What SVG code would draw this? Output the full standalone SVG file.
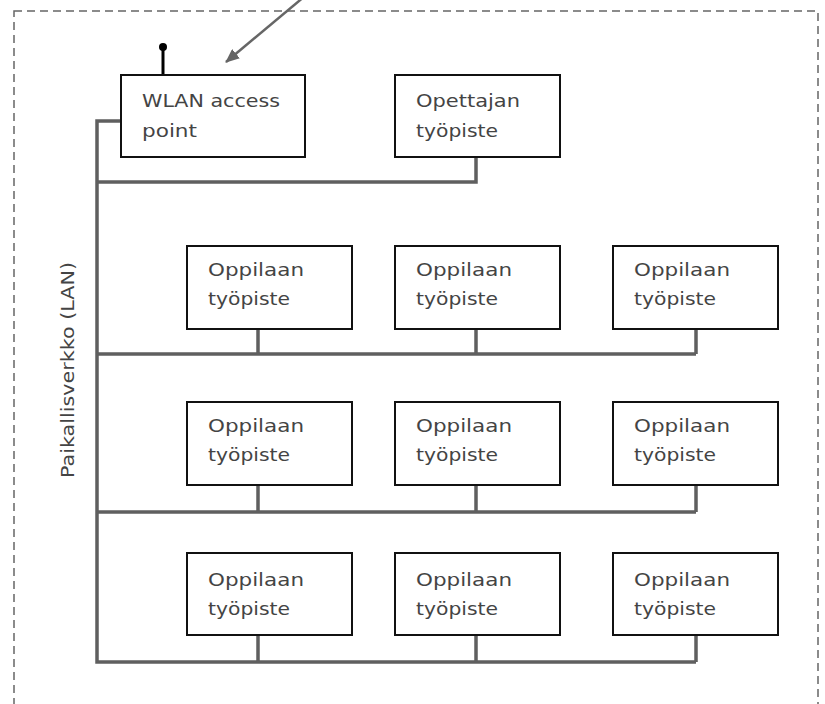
<svg xmlns="http://www.w3.org/2000/svg" width="825" height="704" viewBox="0 0 825 704">
<defs>
<style>
.box{fill:#fff;stroke:#111;stroke-width:2}
.lbl{font-family:"DejaVu Sans","Liberation Sans",sans-serif;font-size:17px;fill:#444}
.bus{fill:none;stroke:#5f5f5f;stroke-width:3.5}
</style>
<marker id="ah" markerWidth="14" markerHeight="12" refX="13" refY="6" orient="auto" markerUnits="userSpaceOnUse">
<path d="M0,0 L14,6 L0,12 z" fill="#666"/>
</marker>
</defs>
<rect x="14" y="11" width="804" height="720" fill="none" stroke="#666" stroke-width="1.5" stroke-dasharray="8 5"/>
<text class="lbl" transform="translate(74,370) rotate(-90)" text-anchor="middle" textLength="216" lengthAdjust="spacingAndGlyphs">Paikallisverkko (LAN)</text>
<g id="connectors">
<path class="bus" d="M121,121 H97 V662 H696"/>
<path class="bus" d="M97,182 H476 V157"/>
<path class="bus" d="M97,354 H696 M258,329 V354 M476,329 V354 M696,329 V354"/>
<path class="bus" d="M97,512 H696 M258,485 V512 M476,485 V512 M696,485 V512"/>
<path class="bus" d="M258,635 V662 M476,635 V662 M696,635 V662"/>
<line x1="163" y1="47" x2="163" y2="75" stroke="#000" stroke-width="3"/>
<circle cx="163" cy="47" r="4" fill="#000"/>
<line x1="305" y1="-4" x2="226" y2="62" stroke="#666" stroke-width="2.5" marker-end="url(#ah)"/>
</g>
<g id="wlan"><rect class="box" x="121" y="75" width="184" height="82"/><text class="lbl" x="142" y="107" textLength="138" lengthAdjust="spacingAndGlyphs">WLAN access</text><text class="lbl" x="142" y="137" textLength="55" lengthAdjust="spacingAndGlyphs">point</text></g>
<g id="opettaja"><rect class="box" x="395" y="75" width="165" height="82"/><text class="lbl" x="416" y="107" textLength="104" lengthAdjust="spacingAndGlyphs">Opettajan</text><text class="lbl" x="416" y="137" textLength="82" lengthAdjust="spacingAndGlyphs">työpiste</text></g>
<g id="o11"><rect class="box" x="187" y="246" width="165" height="83"/><text class="lbl" x="208" y="276" textLength="96" lengthAdjust="spacingAndGlyphs">Oppilaan</text><text class="lbl" x="208" y="305" textLength="82" lengthAdjust="spacingAndGlyphs">työpiste</text></g>
<g id="o12"><rect class="box" x="395" y="246" width="165" height="83"/><text class="lbl" x="416" y="276" textLength="96" lengthAdjust="spacingAndGlyphs">Oppilaan</text><text class="lbl" x="416" y="305" textLength="82" lengthAdjust="spacingAndGlyphs">työpiste</text></g>
<g id="o13"><rect class="box" x="613" y="246" width="165" height="83"/><text class="lbl" x="634" y="276" textLength="96" lengthAdjust="spacingAndGlyphs">Oppilaan</text><text class="lbl" x="634" y="305" textLength="82" lengthAdjust="spacingAndGlyphs">työpiste</text></g>
<g id="o21"><rect class="box" x="187" y="402" width="165" height="83"/><text class="lbl" x="208" y="432" textLength="96" lengthAdjust="spacingAndGlyphs">Oppilaan</text><text class="lbl" x="208" y="461" textLength="82" lengthAdjust="spacingAndGlyphs">työpiste</text></g>
<g id="o22"><rect class="box" x="395" y="402" width="165" height="83"/><text class="lbl" x="416" y="432" textLength="96" lengthAdjust="spacingAndGlyphs">Oppilaan</text><text class="lbl" x="416" y="461" textLength="82" lengthAdjust="spacingAndGlyphs">työpiste</text></g>
<g id="o23"><rect class="box" x="613" y="402" width="165" height="83"/><text class="lbl" x="634" y="432" textLength="96" lengthAdjust="spacingAndGlyphs">Oppilaan</text><text class="lbl" x="634" y="461" textLength="82" lengthAdjust="spacingAndGlyphs">työpiste</text></g>
<g id="o31"><rect class="box" x="187" y="553" width="165" height="82"/><text class="lbl" x="208" y="586" textLength="96" lengthAdjust="spacingAndGlyphs">Oppilaan</text><text class="lbl" x="208" y="615" textLength="82" lengthAdjust="spacingAndGlyphs">työpiste</text></g>
<g id="o32"><rect class="box" x="395" y="553" width="165" height="82"/><text class="lbl" x="416" y="586" textLength="96" lengthAdjust="spacingAndGlyphs">Oppilaan</text><text class="lbl" x="416" y="615" textLength="82" lengthAdjust="spacingAndGlyphs">työpiste</text></g>
<g id="o33"><rect class="box" x="613" y="553" width="165" height="82"/><text class="lbl" x="634" y="586" textLength="96" lengthAdjust="spacingAndGlyphs">Oppilaan</text><text class="lbl" x="634" y="615" textLength="82" lengthAdjust="spacingAndGlyphs">työpiste</text></g>
</svg>
